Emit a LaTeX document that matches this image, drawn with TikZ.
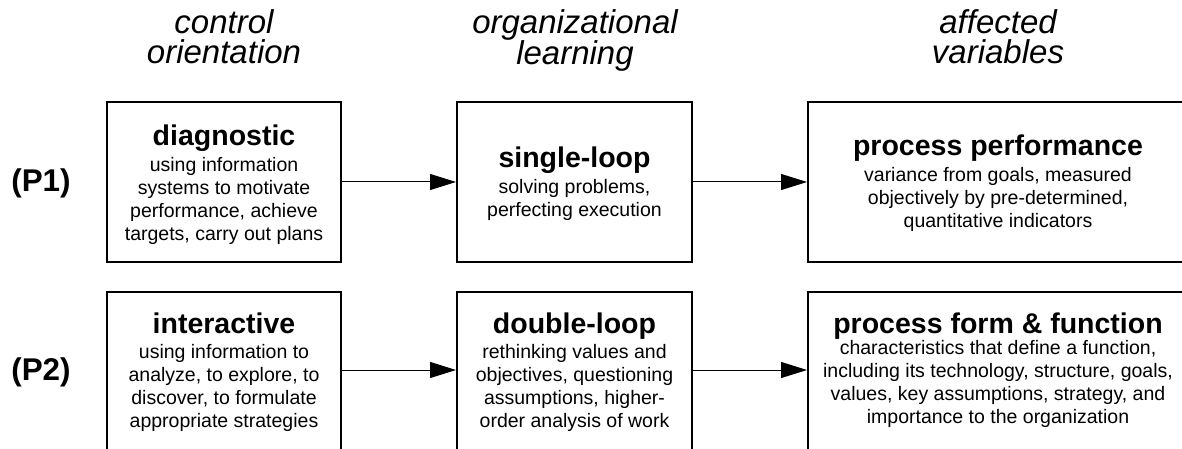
\documentclass[tikz,border=0pt]{standalone}
\usepackage{fontspec}
\setmainfont{Liberation Sans}
\usetikzlibrary{arrows.meta}
\tikzset{
  box/.style={draw=black, line width=2pt, minimum height=160pt, inner sep=0pt},
  boxtext/.style={anchor=north, align=center, inner sep=0pt, font=\fontsize{19.5}{23}\selectfont},
  header/.style={anchor=north, align=center, inner sep=0pt, font=\fontsize{33}{30}\selectfont\itshape},
  rowlabel/.style={inner sep=0pt, font=\fontsize{31.4}{34}\selectfont\bfseries},
  arr/.style={line width=1pt, -{Triangle[length=26pt,width=16pt]}}
}
\newcommand{\ttl}[1]{{\fontsize{28.5}{30}\selectfont\bfseries #1}}
\begin{document}
\begin{tikzpicture}[x=1pt,y=-1pt]
\useasboundingbox (0,0) rectangle (1182,449);
\clip (0,0) rectangle (1182,449);
% headers
\node[header] (h1) at (224,9) {control\\orientation};
\node[header] (h2) at (575,9) {organizational\\learning};
\node[header] (h3) at (998,9) {affected\\variables};
% row labels
\node[rowlabel] (p1) at (41,183.5) {(P1)};
\node[rowlabel] (p2) at (41,372) {(P2)};
% boxes row 1
\node[box, minimum width=234pt] (b1) at (224,182) {};
\node[box, minimum width=235pt] (b2) at (574.5,182) {};
\node[box, minimum width=380pt] (b3) at (998,182) {};
% boxes row 2
\node[box, minimum width=234pt] (b4) at (224,371.7) {};
\node[box, minimum width=235pt] (b5) at (574.5,371.7) {};
\node[box, minimum width=380pt] (b6) at (998,371.7) {};
% texts
\node[boxtext] (t1) at (224,124.5) {\ttl{diagnostic}\\[3pt]using information\\systems to motivate\\performance, achieve\\targets, carry out plans};
\node[boxtext] (t2) at (574.5,146.5) {\ttl{single-loop}\\[3pt]solving problems,\\perfecting execution};
\node[boxtext] (t3) at (998,134.5) {\ttl{process performance}\\[3pt]variance from goals, measured\\objectively by pre-determined,\\quantitative indicators};
\node[boxtext] (t4) at (224,312.5) {\ttl{interactive}\\[2pt]using information to\\analyze, to explore, to\\discover, to formulate\\appropriate strategies};
\node[boxtext] (t5) at (574.5,312.5) {\ttl{double-loop}\\[2pt]rethinking values and\\objectives, questioning\\assumptions, higher-\\order analysis of work};
\node[boxtext] (t6) at (998,312.5) {\ttl{process form \& function}\\[-2pt]characteristics that define a function,\\including its technology, structure, goals,\\values, key assumptions, strategy, and\\importance to the organization};
% arrows
\draw[arr] (b1.east) -- (b2.west);
\draw[arr] (b2.east) -- (b3.west);
\draw[arr] ([yshift=1.7pt]b4.east) -- ([yshift=1.7pt]b5.west);
\draw[arr] ([yshift=1.7pt]b5.east) -- ([yshift=1.7pt]b6.west);
\end{tikzpicture}
\end{document}
